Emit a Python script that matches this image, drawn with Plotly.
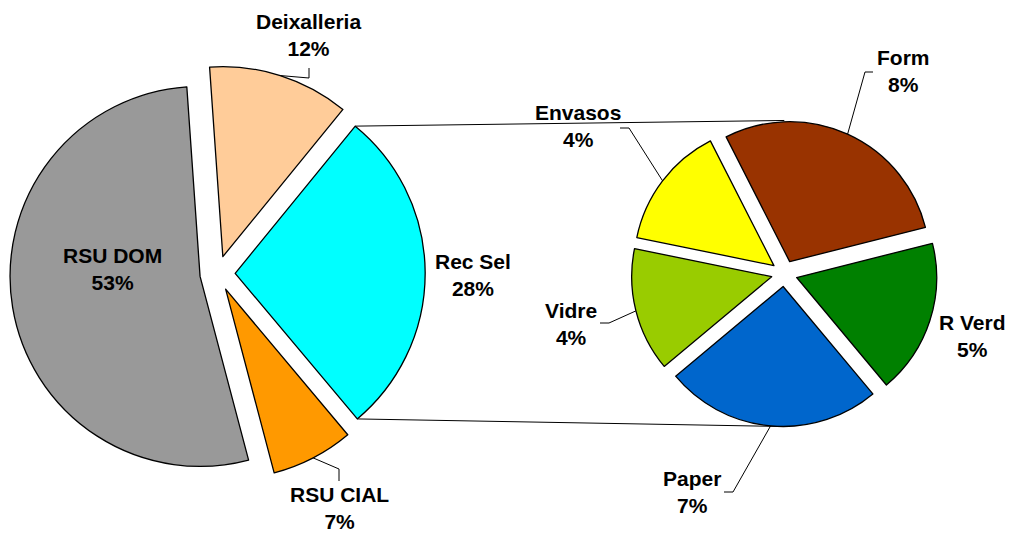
import math
import plotly.graph_objects as go

# ---------------- data ----------------
main_labels = ["Deixalleria", "Rec Sel", "RSU CIAL", "RSU DOM"]
main_values = [12, 28, 7, 53]
main_colors = ["#FFCC99", "#00FFFF", "#FF9900", "#999999"]

sub_labels = ["Form", "R Verd", "Paper", "Vidre", "Envasos"]
sub_values = [8, 5, 7, 4, 4]
sub_colors = ["#993300", "#008000", "#0066CC", "#99CC00", "#FFFF00"]

split_label = "Rec Sel"   # slice of the main pie that is broken down

# ---------------- layout geometry (pixels) ----------------
W, H = 1012, 533
PULL = 0.093
main_geo = dict(cx=217.5, cy=273.5, r=190, rot=-4)
sub_geo = dict(cx=784.3, cy=273.5, r=140, rot=-27)

label_pos = {
    "Deixalleria": (308, 35),
    "Rec Sel": (473, 275),
    "RSU CIAL": (339, 508),
    "RSU DOM": (112, 269),
    "Form": (903, 71),
    "R Verd": (972, 336),
    "Paper": (692, 492),
    "Vidre": (571, 324),
    "Envasos": (578, 126),
}
leader_elbows = {
    "Deixalleria": [(309, 78), (309, 68)],
    "RSU CIAL": [(339, 469), (339, 481)],
    "Form": [(865, 72), (873, 72)],
    "Paper": [(733, 492), (724, 492)],
    "Vidre": [(609, 323), (600, 323)],
    "Envasos": [(629, 128), (620, 128)],
}


def px(x, y):
    return x / W, 1 - y / H


def domain(g):
    half = g["r"] * (1 + PULL)
    x0, y1 = px(g["cx"] - half, g["cy"] - half)
    x1, y0 = px(g["cx"] + half, g["cy"] + half)
    return dict(x=[x0, x1], y=[y0, y1])


def direction(angle_deg):
    a = math.radians(angle_deg)
    return math.sin(a), -math.cos(a)


def slice_angles(values, i, rot):
    tot = sum(values)
    start = rot + 360 * sum(values[:i]) / tot
    end = start + 360 * values[i] / tot
    return start, (start + end) / 2, end


def vertex(g, mid):
    dx, dy = direction(mid)
    return g["cx"] + PULL * g["r"] * dx, g["cy"] + PULL * g["r"] * dy


def arc_point(g, vtx, ang):
    dx, dy = direction(ang)
    return vtx[0] + g["r"] * dx, vtx[1] + g["r"] * dy


fig = go.Figure()
for labels, values, colors, g in [
    (main_labels, main_values, main_colors, main_geo),
    (sub_labels, sub_values, sub_colors, sub_geo),
]:
    fig.add_trace(go.Pie(
        labels=labels, values=values, sort=False, direction="clockwise",
        rotation=g["rot"], pull=[PULL] * len(values),
        marker=dict(colors=colors, line=dict(color="black", width=1.3)),
        textinfo="none", hoverinfo="label+percent", domain=domain(g),
        showlegend=False,
    ))

total = sum(main_values)
shapes = []
annotations = []
line_style = dict(color="black", width=1)

for labels, values, g in [(main_labels, main_values, main_geo), (sub_labels, sub_values, sub_geo)]:
    for i, lab in enumerate(labels):
        pct = round(values[i] / total * 100)
        x, y = px(*label_pos[lab])
        annotations.append(dict(
            x=x, y=y, xref="paper", yref="paper", showarrow=False,
            text=f"<b>{lab}</b><br><b>{pct}%</b>", xanchor="center", yanchor="middle",
            font=dict(family="Liberation Sans, Arial, sans-serif", size=21, color="black"),
        ))
        if lab in leader_elbows:
            _, mid, _ = slice_angles(values, i, g["rot"])
            vtx = vertex(g, mid)
            pts = [arc_point(g, vtx, mid)] + leader_elbows[lab]
            for (ax0, ay0), (ax1, ay1) in zip(pts[:-1], pts[1:]):
                x0, y0 = px(ax0, ay0)
                x1, y1 = px(ax1, ay1)
                shapes.append(dict(type="line", xref="paper", yref="paper",
                                   x0=x0, y0=y0, x1=x1, y1=y1, line=line_style))

# connector lines from the split slice to the top / bottom of the second pie
k = main_labels.index(split_label)
s, m, e = slice_angles(main_values, k, main_geo["rot"])
vtx = vertex(main_geo, m)
c_top = arc_point(main_geo, vtx, s)
c_bot = arc_point(main_geo, vtx, e)
half_sub = sub_geo["r"] * (1 + PULL)
for (ax0, ay0), (ax1, ay1) in [
    (c_top, (sub_geo["cx"], sub_geo["cy"] - half_sub)),
    (c_bot, (sub_geo["cx"], sub_geo["cy"] + half_sub)),
]:
    x0, y0 = px(ax0, ay0)
    x1, y1 = px(ax1, ay1)
    shapes.append(dict(type="line", xref="paper", yref="paper",
                       x0=x0, y0=y0, x1=x1, y1=y1, line=line_style))

fig.update_layout(
    width=W, height=H, margin=dict(l=0, r=0, t=0, b=0),
    paper_bgcolor="white", plot_bgcolor="white",
    shapes=shapes, annotations=annotations,
)

fig.write_html(
    "out.html",
    config={"displayModeBar": False},
    post_script="document.body.style.margin='0px';document.body.style.overflow='hidden';",
)
